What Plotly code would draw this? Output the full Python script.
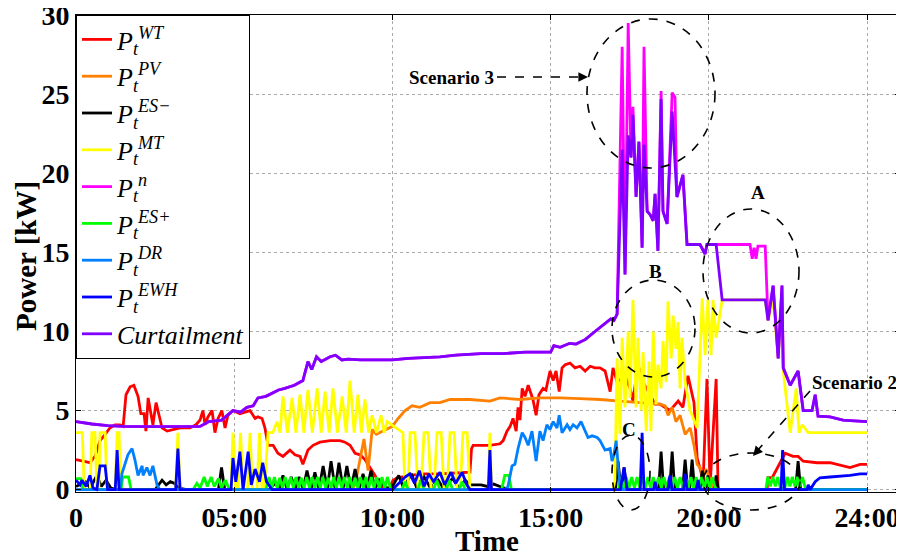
import plotly.graph_objects as go

# ---------------- data (time unit: tick 0..25 -> 0 .. 24:00) ----------------
tick_vals = [0, 5, 10, 15, 20, 25]
tick_text = ["0", "05:00", "10:00", "15:00", "20:00", "24:00"]
y_ticks = [0, 5, 10, 15, 20, 25, 30]

wt_x = [0, 0.44, 0.6, 0.76, 0.92, 1.07, 1.23, 1.39, 1.49, 1.58, 1.71, 1.83, 1.96, 2.05, 2.15, 2.21, 2.28, 2.34, 2.43, 2.53, 2.62, 2.72, 2.88, 3.13, 3.29, 3.6, 3.79, 3.92, 4.01, 4.08, 4.17, 4.30, 4.39, 4.49, 4.61, 4.71, 4.80, 4.96, 5.18, 5.34, 5.50, 5.66, 5.75, 5.88, 5.97, 6.07, 6.23, 6.38, 6.54, 6.76, 6.92, 7.08, 7.17, 7.33, 7.49, 7.71, 8.03, 8.34, 8.50, 8.66, 8.82, 8.98, 9.13, 9.29, 9.45, 9.61, 9.9, 10.02, 10.15, 10.87, 11.5, 12.0, 12.45, 12.5, 12.55, 12.77, 13.08, 13.40, 13.50, 13.62, 13.72, 13.81, 13.91, 13.97, 14.03, 14.10, 14.19, 14.29, 14.38, 14.44, 14.54, 14.63, 14.76, 14.85, 14.98, 15.08, 15.17, 15.27, 15.36, 15.46, 15.61, 15.77, 15.93, 16.09, 16.25, 16.40, 16.56, 16.72, 16.88, 16.97, 17.1, 17.35, 17.51, 17.60, 17.76, 17.92, 18.14, 18.30, 18.46, 18.77, 19.03, 19.18, 19.34, 19.53, 19.63, 19.72, 19.82, 19.94, 20.04, 20.23, 20.29, 21.84, 21.87, 22.0, 22.41, 22.66, 22.82, 22.98, 23.42, 23.83, 24.46, 24.78, 25.0]
wt_y = [1.9, 1.7, 2.1, 3.1, 3.5, 3.9, 4.1, 4.1, 4.0, 6.0, 6.5, 6.6, 5.9, 4.8, 4.8, 3.7, 5.8, 5.2, 4.1, 5.5, 4.7, 3.9, 3.7, 3.8, 3.9, 3.9, 4.1, 4.4, 5.0, 4.1, 4.6, 5.0, 3.6, 4.5, 5.0, 3.9, 4.7, 5.0, 4.8, 4.9, 5.0, 4.5, 4.6, 4.5, 3.9, 2.8, 2.8, 2.3, 2.1, 2.5, 2.2, 2.1, 1.6, 2.5, 2.8, 3.0, 3.1, 3.1, 3.0, 2.8, 2.3, 2.2, 1.9, 1.4, 0.9, 0.2, 0.1, 0.6, 0.75, 1.0, 1.0, 1.05, 1.1, 2.6, 2.8, 2.8, 2.8, 2.9, 3.1, 3.7, 4.0, 4.5, 3.7, 5.2, 4.4, 6.4, 5.9, 6.6, 6.0, 5.7, 4.7, 6.0, 6.4, 6.3, 7.5, 6.9, 7.5, 6.2, 7.7, 7.9, 8.0, 7.7, 7.8, 7.5, 7.8, 7.7, 7.7, 7.5, 6.2, 7.7, 6.8, 7.2, 6.4, 5.6, 7.9, 6.8, 6.0, 5.4, 5.4, 5.0, 5.6, 5.2, 7.2, 5.5, 2.0, 1.4, 0.6, 7.0, 0.3, 7.0, 0.0, 0.0, 0.75, 0.75, 2.3, 2.1, 2.1, 1.8, 1.7, 1.7, 1.4, 1.6, 1.6]

pv_x = [0, 8.7, 8.82, 8.98, 9.1, 9.23, 9.36, 9.49, 9.61, 9.8, 10.0, 10.18, 10.4, 10.62, 10.87, 11.19, 11.5, 11.82, 12.45, 13.08, 13.40, 14.03, 14.66, 15.29, 15.93, 16.56, 17.19, 17.82, 18.46, 18.62, 18.71, 18.84, 18.96, 19.09, 19.25, 19.41, 19.53, 19.63, 19.72, 19.82, 19.91, 20.04, 20.16, 25]
pv_y = [0, 0, 0.3, 2.0, 3.2, 1.2, 3.8, 3.5, 3.6, 3.8, 4.0, 4.5, 5.0, 5.3, 5.2, 5.5, 5.5, 5.7, 5.7, 5.6, 5.8, 5.7, 5.8, 5.8, 5.75, 5.7, 5.6, 5.5, 5.4, 5.3, 4.7, 5.2, 4.3, 4.7, 3.5, 3.9, 2.8, 1.6, 1.4, 0.75, 1.3, 0.6, 0, 0]

esm_x = [0, 0.3, 0.45, 0.66, 0.8, 0.95, 1.1, 1.3, 2.5, 2.6, 2.72, 2.85, 2.98, 3.1, 3.25, 3.5, 4.5, 4.6, 4.7, 6.1, 6.29, 6.42, 6.54, 6.67, 6.80, 6.93, 7.05, 7.18, 7.30, 7.43, 7.55, 7.68, 7.81, 7.94, 8.06, 8.19, 8.31, 8.44, 8.56, 8.69, 8.82, 8.95, 9.07, 9.2, 9.32, 9.45, 9.58, 9.7, 9.85, 10.0, 10.2, 10.35, 10.6, 10.75, 11.0, 11.2, 11.45, 11.6, 11.9, 12.1, 12.3, 12.45, 12.8, 13.0, 13.2, 13.4, 13.6, 13.8, 17.05, 17.13, 17.22, 17.26, 17.32, 17.4, 18.41, 18.49, 18.57, 18.76, 18.84, 18.92, 19.17, 19.25, 19.33, 19.39, 19.47, 19.55, 19.72, 19.79, 19.86, 19.91, 19.97, 20.03, 20.17, 20.23, 20.3, 22.74, 22.82, 22.9, 25]
esm_y = [0.2, 0.5, 0.1, 0.9, 0.2, 0.6, 0.1, 0, 0, 0.3, 0.6, 0.3, 0.5, 0.4, 0.1, 0, 0, 1.4, 0, 0, 0.4, 0.05, 0.9, 0.05, 0.8, 0.05, 0.8, 0.05, 1.2, 0.05, 1.1, 0.05, 1.5, 0.05, 1.8, 0.05, 1.7, 0.05, 1.5, 0.05, 1.3, 0.05, 1.0, 0.05, 1.2, 0.05, 0.6, 0.3, 0.05, 0.2, 0.9, 0.1, 1.0, 0.2, 0.8, 0.1, 0.6, 0.1, 0.7, 0.1, 0.6, 0.3, 0.3, 0.2, 0.35, 0.2, 0.05, 0, 0, 1.8, 0, 0, 1.4, 0, 0, 2.4, 0, 0, 2.4, 0, 0, 1.9, 0, 0, 1.9, 0, 0, 1.2, 0, 0, 0.9, 0, 0, 0.9, 0, 0, 1.8, 0, 0]

mt_x = [0, 0.2, 0.26, 0.45, 0.5, 0.6, 0.66, 0.72, 0.76, 0.92, 0.98, 1.24, 1.3, 1.36, 1.42, 3.15, 3.22, 3.29, 4.9, 4.96, 5.05, 5.12, 5.2, 5.28, 5.42, 5.5, 5.58, 5.72, 5.8, 5.88, 5.95, 6.07, 6.22, 6.35, 6.45, 6.54, 6.68, 6.83, 6.95, 7.08, 7.2, 7.33, 7.47, 7.62, 7.75, 7.87, 8.0, 8.12, 8.26, 8.41, 8.54, 8.66, 8.79, 8.91, 9.02, 9.13, 9.25, 9.36, 9.5, 9.64, 9.74, 9.83, 10.33, 10.40, 10.49, 10.56, 10.71, 10.81, 10.90, 11.0, 11.13, 11.22, 11.31, 11.41, 11.54, 11.63, 11.73, 11.82, 11.95, 12.04, 12.14, 12.23, 12.36, 12.45, 13.03, 13.08, 13.13, 16.97, 17.03, 17.1, 17.19, 17.26, 17.35, 17.45, 17.51, 17.60, 17.70, 17.76, 17.86, 17.92, 18.02, 18.11, 18.17, 18.24, 18.33, 18.39, 18.49, 18.55, 18.65, 18.71, 18.81, 18.87, 18.96, 19.03, 19.09, 19.15, 19.25, 19.41, 19.63, 19.79, 19.88, 19.97, 20.07, 20.13, 20.23, 20.42, 21.78, 21.87, 22.03, 22.19, 22.31, 22.35, 22.57, 22.76, 22.85, 22.95, 23.14, 25.0]
mt_y = [3.6, 3.6, 0, 0, 3.6, 3.6, 0, 0, 3.6, 3.6, 0, 0, 3.6, 3.6, 0, 0, 3.6, 0, 0, 3.6, 0, 0, 3.6, 0, 0, 3.6, 0, 0, 3.6, 0, 0, 3.6, 3.6, 4.3, 3.6, 5.9, 3.6, 5.8, 3.6, 6.0, 3.6, 6.3, 3.6, 6.4, 3.6, 6.2, 3.6, 6.4, 3.6, 5.9, 3.6, 6.9, 3.6, 6.0, 3.6, 5.7, 3.6, 4.7, 3.6, 4.7, 3.6, 4.3, 3.6, 0, 0, 3.6, 3.6, 0, 0, 3.6, 3.6, 0, 0, 3.6, 3.6, 0, 0, 3.6, 3.6, 0, 0, 3.6, 3.6, 0, 0, 3.6, 0, 0, 0.6, 8.3, 3.5, 9.6, 5.2, 10.0, 5.8, 12.0, 5.2, 9.6, 5.0, 8.7, 3.7, 8.1, 3.7, 10.0, 5.4, 7.9, 6.4, 9.4, 6.8, 11.9, 8.3, 11.0, 8.9, 10.6, 6.4, 9.6, 6.8, 5.0, 3.9, 12.1, 8.5, 12.0, 8.5, 12.0, 9.6, 12.0, 12.0, 10.7, 12.0, 8.3, 12.0, 7.5, 3.6, 6.4, 3.6, 4.1, 3.6, 3.6]

n_x = [0, 0.5, 1.0, 1.5, 2.5, 3.5, 3.92, 4.2, 4.6, 4.96, 5.2, 5.4, 5.6, 5.75, 6.0, 6.4, 6.6, 6.9, 7.1, 7.17, 7.33, 7.45, 7.6, 7.75, 8.03, 8.2, 8.4, 8.6, 9.0, 10.0, 10.5, 11.0, 11.5, 12.0, 12.8, 13.5, 14.2, 15.0, 15.1, 15.3, 15.6, 15.8, 16.1, 16.4, 16.72, 16.9, 17.0, 17.1, 17.26, 17.35, 17.45, 17.54, 17.60, 17.70, 17.79, 17.89, 17.95, 18.05, 18.14, 18.24, 18.30, 18.39, 18.49, 18.55, 18.68, 18.84, 18.93, 18.99, 19.18, 19.31, 19.72, 19.88, 19.94, 20.23, 21.30, 21.37, 21.43, 21.49, 21.55, 21.78, 21.87, 22.03, 22.19, 22.31, 22.35, 22.57, 22.82, 22.98, 23.26, 23.36, 23.45, 23.83, 24.24, 24.6, 25.0]
n_y = [4.3, 4.15, 4.05, 4.0, 3.98, 4.0, 4.0, 4.3, 4.4, 5.0, 4.9, 5.2, 5.3, 5.8, 5.9, 6.3, 6.4, 6.6, 6.8, 6.9, 8.1, 7.6, 8.4, 8.1, 8.4, 8.5, 8.2, 8.25, 8.2, 8.2, 8.3, 8.35, 8.4, 8.5, 8.6, 8.6, 8.7, 8.7, 9.1, 9.0, 9.25, 9.2, 9.5, 10.0, 10.5, 10.8, 10.7, 11.1, 28.0, 13.6, 29.5, 21.0, 24.2, 18.5, 22.0, 15.3, 28.0, 17.6, 17.4, 17.0, 18.7, 15.1, 25.2, 17.6, 16.8, 25.1, 24.8, 18.5, 19.9, 15.5, 15.5, 14.9, 15.5, 15.5, 15.5, 14.6, 15.3, 14.6, 15.4, 15.4, 10.7, 12.9, 8.3, 12.9, 7.7, 6.6, 7.5, 5.0, 5.0, 6.0, 4.65, 4.6, 4.4, 4.35, 4.3]

esp_x = [0, 0.15, 0.22, 1.42, 1.48, 1.66, 1.74, 3.7, 3.82, 3.92, 4.05, 4.15, 4.27, 4.37, 4.5, 4.6, 4.72, 4.85, 6.0, 6.10, 6.19, 6.27, 6.36, 6.44, 6.53, 6.61, 6.70, 6.78, 6.87, 6.95, 7.04, 7.12, 7.21, 7.29, 7.38, 7.46, 7.55, 7.63, 7.72, 7.80, 7.89, 7.97, 8.06, 8.14, 8.23, 8.31, 8.40, 8.48, 8.57, 8.65, 8.74, 8.82, 8.91, 8.99, 9.08, 9.16, 9.25, 9.33, 9.42, 9.50, 9.59, 9.67, 9.76, 9.84, 9.95, 10.3, 10.4, 10.5, 10.8, 10.9, 11.0, 11.3, 11.4, 11.5, 11.7, 11.8, 11.9, 12.1, 12.2, 12.3, 13.45, 13.55, 13.68, 13.76, 17.15, 17.22, 17.31, 17.39, 17.48, 17.56, 17.65, 17.73, 17.82, 17.90, 17.99, 18.07, 18.16, 18.24, 18.33, 18.41, 18.50, 18.58, 18.67, 18.75, 18.84, 18.92, 19.01, 19.09, 19.18, 19.26, 19.35, 19.43, 19.52, 19.60, 19.69, 19.77, 19.86, 19.94, 20.03, 20.11, 20.2, 20.28, 21.8, 21.86, 21.94, 22.02, 22.10, 22.18, 22.26, 22.40, 22.48, 22.56, 22.64, 22.72, 22.80, 22.88, 22.96, 23.06, 25]
esp_y = [0.7, 0.7, 0, 0, 0.8, 0.8, 0, 0, 0.4, 0.1, 0.8, 0.2, 0.8, 0.2, 0.7, 0.1, 0.6, 0, 0, 0.8, 0.1, 0.8, 0.1, 0.75, 0.1, 0.8, 0.1, 0.8, 0.1, 0.8, 0.1, 0.75, 0.1, 0.8, 0.1, 0.8, 0.1, 0.8, 0.1, 0.8, 0.1, 0.75, 0.1, 0.8, 0.1, 0.8, 0.1, 0.8, 0.1, 0.8, 0.1, 0.75, 0.1, 0.8, 0.1, 0.8, 0.1, 0.8, 0.1, 0.8, 0.1, 0.8, 0.1, 0.8, 0, 0, 0.5, 0, 0, 0.6, 0, 0, 0.6, 0, 0, 0.6, 0, 0, 0.5, 0, 0, 0.9, 0.9, 0, 0, 0.8, 0.1, 0.8, 0.1, 0.8, 0.1, 0.8, 0.1, 0.8, 0.1, 0.8, 0.1, 0.8, 0.1, 0.8, 0.1, 0.8, 0.1, 0.8, 0.1, 0.8, 0.1, 0.8, 0.1, 0.8, 0.1, 0.8, 0.1, 0.8, 0.1, 0.8, 0.1, 0.8, 0.1, 0.8, 0.1, 0, 0, 0.8, 0.2, 0.8, 0.2, 0.8, 0.1, 0.1, 0.8, 0.2, 0.8, 0.2, 0.8, 0.2, 0.8, 0, 0]

dr_x = [0, 1.4, 1.45, 1.58, 1.64, 1.77, 1.86, 1.96, 2.09, 2.12, 2.24, 2.34, 2.43, 2.56, 2.65, 13.55, 13.65, 13.78, 13.87, 13.97, 14.1, 14.19, 14.29, 14.41, 14.54, 14.66, 14.76, 14.88, 14.98, 15.08, 15.2, 15.27, 15.36, 15.52, 15.61, 15.71, 15.83, 15.96, 16.09, 16.18, 16.31, 16.47, 16.56, 16.72, 16.88, 16.94, 17.0, 17.07, 17.13, 17.19, 17.26, 25]
dr_y = [0, 0, 1.0, 1.8, 2.2, 2.6, 1.9, 0.9, 1.5, 0.9, 1.4, 0.9, 1.5, 0.3, 0, 0, 0.2, 1.5, 1.6, 2.6, 3.6, 3.3, 2.8, 3.7, 1.8, 3.7, 3.1, 4.1, 3.8, 4.3, 3.9, 4.7, 3.6, 4.1, 3.8, 4.1, 3.9, 4.3, 3.7, 3.3, 3.4, 3.3, 3.1, 2.5, 2.6, 1.8, 2.2, 3.1, 1.6, 0.3, 0, 0]

ewh_x = [0, 0.13, 0.19, 0.32, 0.44, 0.54, 0.66, 0.76, 0.92, 1.0, 1.24, 1.3, 1.36, 3.15, 3.22, 3.29, 4.9, 4.96, 5.05, 5.18, 5.28, 5.44, 5.54, 5.66, 5.8, 5.9, 6.02, 6.1, 6.2, 10.0, 10.2, 10.4, 10.55, 10.7, 10.85, 11.0, 11.15, 11.3, 11.5, 11.65, 11.85, 12.0, 12.2, 12.35, 12.45, 13.03, 13.08, 13.13, 17.2, 17.32, 17.42, 17.83, 17.89, 17.95, 18.25, 18.3, 18.36, 18.7, 18.77, 18.84, 19.2, 19.25, 19.31, 19.6, 19.66, 19.72, 22.28, 22.33, 22.39, 23.1, 23.14, 23.2, 23.36, 23.51, 23.83, 24.24, 24.46, 24.78, 25.0]
ewh_y = [0.6, 0.3, 0.6, 0.2, 0.9, 0.1, 0, 1.5, 1.5, 0, 0, 2.5, 0, 0, 2.6, 0, 0, 2.0, 0.5, 2.4, 0, 2.4, 0.3, 1.3, 0.5, 1.7, 0.5, 0.3, 0, 0, 0.4, 0.8, 1.0, 0.4, 1.2, 0.2, 1.0, 0.5, 1.1, 0.3, 1.1, 0.4, 1.1, 0.3, 0, 0, 2.5, 0, 0, 1.4, 0, 0, 3.6, 0, 0, 0.5, 0, 0, 0.9, 0, 0, 1.0, 0, 0, 0.6, 0, 0, 2.5, 0, 0, 0.3, 0, 0.5, 0.75, 0.8, 0.85, 0.9, 1.0, 1.0]

cur_x = [0, 0.5, 1.0, 1.5, 2.5, 3.5, 3.92, 4.2, 4.6, 4.96, 5.2, 5.4, 5.6, 5.75, 6.0, 6.4, 6.6, 6.9, 7.1, 7.17, 7.33, 7.45, 7.6, 7.75, 8.03, 8.2, 8.4, 8.6, 9.0, 10.0, 10.5, 11.0, 11.5, 12.0, 12.8, 13.5, 14.2, 15.0, 15.1, 15.3, 15.6, 15.8, 16.1, 16.4, 16.72, 16.9, 17.0, 17.1, 17.26, 17.35, 17.45, 17.54, 17.60, 17.70, 17.79, 17.89, 17.95, 18.05, 18.14, 18.24, 18.30, 18.39, 18.49, 18.55, 18.68, 18.84, 18.99, 19.18, 19.31, 19.72, 19.88, 19.94, 20.23, 20.42, 21.78, 21.87, 22.03, 22.19, 22.31, 22.35, 22.57, 22.82, 22.98, 23.26, 23.36, 23.45, 23.83, 24.24, 24.6, 25.0]
cur_y = [4.3, 4.15, 4.05, 4.0, 3.98, 4.0, 4.0, 4.3, 4.4, 5.0, 4.9, 5.2, 5.3, 5.8, 5.9, 6.3, 6.4, 6.6, 6.8, 6.9, 8.1, 7.6, 8.4, 8.1, 8.4, 8.5, 8.2, 8.25, 8.2, 8.2, 8.3, 8.35, 8.4, 8.5, 8.6, 8.6, 8.7, 8.7, 9.1, 9.0, 9.25, 9.2, 9.5, 10.0, 10.5, 10.8, 10.7, 11.1, 21.5, 13.6, 22.4, 21.0, 23.7, 18.5, 22.0, 15.3, 21.8, 17.6, 17.4, 17.0, 18.7, 15.1, 24.7, 17.6, 16.8, 23.9, 18.5, 19.9, 15.5, 15.5, 14.9, 15.5, 15.5, 12.0, 12.0, 10.7, 12.9, 8.3, 12.9, 7.7, 6.6, 7.5, 5.0, 5.0, 6.0, 4.65, 4.6, 4.4, 4.35, 4.3]

series = [
    ("<i>P</i><sub><i>t</i></sub><sup><i>WT</i></sup>", wt_x, wt_y, "#ff0000"),
    ("<i>P</i><sub><i>t</i></sub><sup><i>PV</i></sup>", pv_x, pv_y, "#ff8000"),
    ("<i>P</i><sub><i>t</i></sub><sup><i>ES−</i></sup>", esm_x, esm_y, "#000000"),
    ("<i>P</i><sub><i>t</i></sub><sup><i>MT</i></sup>", mt_x, mt_y, "#ffff00"),
    ("<i>P</i><sub><i>t</i></sub><sup><i>n</i></sup>", n_x, n_y, "#ff00ff"),
    ("<i>P</i><sub><i>t</i></sub><sup><i>ES+</i></sup>", esp_x, esp_y, "#00ff00"),
    ("<i>P</i><sub><i>t</i></sub><sup><i>DR</i></sup>", dr_x, dr_y, "#0080ff"),
    ("<i>P</i><sub><i>t</i></sub><sup><i>EWH</i></sup>", ewh_x, ewh_y, "#0000ff"),
    ("<i>Curtailment</i>", cur_x, cur_y, "#8000ff"),
]

fig = go.Figure()
for name, xs, ys, col in series:
    fig.add_trace(go.Scatter(x=xs, y=ys, mode="lines", name=name,
                             line=dict(color=col, width=2.8)))

serif = "Liberation Serif, Times New Roman, serif"

# plot area in page pixels: x 76..900, y 15..492
def px2x(px):
    return (px - 76) / 824.0

def py2y(py):
    return (492 - py) / 477.0

shapes = []
for (x0, x1, y0, y1) in [(587, 715, 168, 19), (703, 799, 333, 209), (612, 695, 377, 280),
                         (612, 650, 510, 435), (703, 800, 510, 453)]:
    shapes.append(dict(type="circle", xref="paper", yref="paper",
                       x0=px2x(x0), x1=px2x(x1), y0=py2y(y0), y1=py2y(y1),
                       line=dict(color="black", width=1.6, dash="dash")))
# dashed arrow shafts
shapes.append(dict(type="line", xref="paper", yref="paper",
                   x0=px2x(497), y0=py2y(77), x1=px2x(582), y1=py2y(77),
                   line=dict(color="black", width=1.6, dash="dash")))
shapes.append(dict(type="line", xref="paper", yref="paper",
                   x0=px2x(810), y0=py2y(391), x1=px2x(757), y1=py2y(451),
                   line=dict(color="black", width=1.6, dash="dash")))

annos = []
for txt, px, py in [("Scenario 3", 451, 78), ("Scenario 2", 854, 382),
                    ("A", 758, 193), ("B", 655, 271), ("C", 629, 429)]:
    annos.append(dict(text="<b>%s</b>" % txt, xref="paper", yref="paper",
                      x=px2x(px), y=py2y(py), xanchor="center", yanchor="middle",
                      showarrow=False,
                      font=dict(family=serif, size=19, color="black")))
annos.append(dict(text="", xref="paper", yref="paper", x=px2x(588), y=py2y(77),
                  ax=-10, ay=0, showarrow=True, arrowhead=2, arrowsize=1.2,
                  arrowwidth=1.6, arrowcolor="black"))
annos.append(dict(text="", xref="paper", yref="paper", x=px2x(753), y=py2y(456),
                  ax=7, ay=-8, showarrow=True, arrowhead=2, arrowsize=1.2,
                  arrowwidth=1.6, arrowcolor="black"))
# axis titles
annos.append(dict(text="<b>Time</b>", xref="paper", yref="paper",
                  x=px2x(487), y=py2y(541), xanchor="center", yanchor="middle",
                  showarrow=False, font=dict(family=serif, size=29, color="black")))
annos.append(dict(text="<b>Power [kW]</b>", xref="paper", yref="paper",
                  x=px2x(26), y=py2y(256), xanchor="center", yanchor="middle",
                  textangle=-90, showarrow=False,
                  font=dict(family=serif, size=29, color="black")))

axis_common = dict(showline=True, linecolor="black", linewidth=1, mirror="ticks",
                   ticks="inside", ticklen=5, tickcolor="black",
                   showgrid=True, gridcolor="#aaaaaa", griddash="dot", gridwidth=1,
                   zeroline=False, automargin=False, ticklabeloverflow="allow",
                   tickfont=dict(family=serif, size=28, color="black"))

# the page body adds an 8px offset, so margins are shifted by 8px
fig.update_layout(
    width=904, height=556,
    margin=dict(l=68, r=12, t=7, b=72, autoexpand=False),
    plot_bgcolor="white", paper_bgcolor="white",
    xaxis=dict(range=[0, 26.04], tickvals=tick_vals,
               ticktext=["<b>%s</b>" % t for t in tick_text],
               **axis_common),
    yaxis=dict(range=[-0.15, 30.01], tickvals=y_ticks,
               ticktext=["<b>%d</b>" % v for v in y_ticks],
               **axis_common),
    legend=dict(x=0, y=1, xanchor="left", yanchor="top", bgcolor="white",
                bordercolor="black", borderwidth=1,
                font=dict(family=serif, size=26, color="black"),
                itemwidth=30, tracegroupgap=0),
    shapes=shapes, annotations=annos,
    showlegend=True,
)

fig.write_html("out.html")
